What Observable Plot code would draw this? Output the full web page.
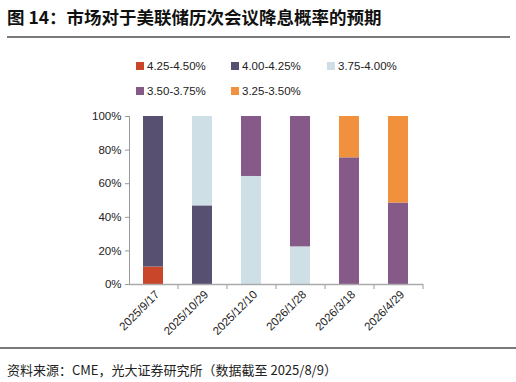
<!DOCTYPE html>
<html><head><meta charset="utf-8">
<script src="https://cdn.jsdelivr.net/npm/d3@7"></script>
<script src="https://cdn.jsdelivr.net/npm/@observablehq/plot@0.6"></script>
<style>
body{margin:0;background:#fff;width:516px;height:382px;position:relative;overflow:hidden;font-family:"Liberation Sans",Arial,sans-serif;}
#title{position:absolute;left:7px;top:4px;font:bold 17.5px "Noto Sans CJK SC",sans-serif;color:#111;white-space:nowrap;}
.hr{position:absolute;left:7px;width:503px;height:2px;background:#7a7a7a;}
.leg{position:absolute;font-size:11.5px;color:#222;white-space:nowrap;display:flex;align-items:center;}
.leg span.sw{display:inline-block;width:8px;height:8px;margin-right:3px;}
#foot{position:absolute;left:7px;top:360px;font:13px "Noto Sans CJK SC",sans-serif;color:#222;white-space:nowrap;}
#chart{position:absolute;left:0;top:100px;}
</style></head>
<body>
<div id="title">图 14：市场对于美联储历次会议降息概率的预期</div>
<div class="hr" style="top:36px"></div>
<div id="legend"></div>
<div id="chart"></div>
<div class="hr" style="top:347px;left:0;width:516px"></div>
<div id="foot">资料来源：CME，光大证券研究所（数据截至 2025/8/9）</div>
<script>
const meetings = ["2025/9/17","2025/10/29","2025/12/10","2026/1/28","2026/3/18","2026/4/29"];
const ranges = ["4.25-4.50%","4.00-4.25%","3.75-4.00%","3.50-3.75%","3.25-3.50%"];
const colors = ["#C9462A","#575071","#CFDFE6","#855A88","#F2913D"];
// probabilities (%) per meeting, ordered as ranges
const p425 = [10.4, 0, 0, 0, 0, 0];
const p400 = [89.6, 46.8, 0, 0, 0, 0];
const p375 = [0, 53.2, 64.3, 22.4, 0, 0];
const p350 = [0, 0, 35.7, 77.6, 75.4, 48.5];
const p325 = [0, 0, 0, 0, 24.6, 51.5];
const series = [p425, p400, p375, p350, p325];

const data = [];
meetings.forEach((m, i) => ranges.forEach((r, j) => data.push({meeting: m, range: r, value: series[j][i]})));

// legend
const legPos = [[136,67],[231,67],[327,67],[136,92],[231,92]];
const leg = document.getElementById("legend");
ranges.forEach((r, j) => {
  const d = document.createElement("div");
  d.className = "leg";
  d.style.left = legPos[j][0] + "px";
  d.style.top = (legPos[j][1] - 7) + "px";
  d.innerHTML = `<span class="sw" style="background:${colors[j]}"></span>${r}`;
  leg.appendChild(d);
});

const chart = Plot.plot({
  width: 516,
  height: 245,
  marginLeft: 129,
  marginRight: 93,
  marginTop: 16,
  marginBottom: 61,
  style: {fontFamily: "Liberation Sans, Arial, sans-serif", fontSize: "11px", color: "#222"},
  x: {domain: meetings, paddingInner: 0.59, paddingOuter: 0.295, label: null},
  y: {domain: [0, 100], label: null},
  color: {domain: ranges, range: colors},
  marks: [
    Plot.barY(data, {x: "meeting", y: "value", fill: "range", order: ranges}),
    Plot.axisY({ticks: [0,20,40,60,80,100], tickFormat: d => d + "%", tickSize: 4, tickPadding: 4, stroke: "#999", fontSize: 11.5, label: null}),
    Plot.axisX({tickSize: 5, dx: 24.5, tickFormat: () => "", stroke: "#999", label: null}),
    Plot.axisX({tickSize: 0, tickRotate: -45, tickPadding: 8, dx: 4, fontSize: 11.5, label: null}),
    Plot.frame({anchor: "left", stroke: "#999"}),
    Plot.ruleY([0], {stroke: "#aaa", strokeWidth: 1.5})
  ]
});
document.getElementById("chart").appendChild(chart);
</script>
</body></html>
